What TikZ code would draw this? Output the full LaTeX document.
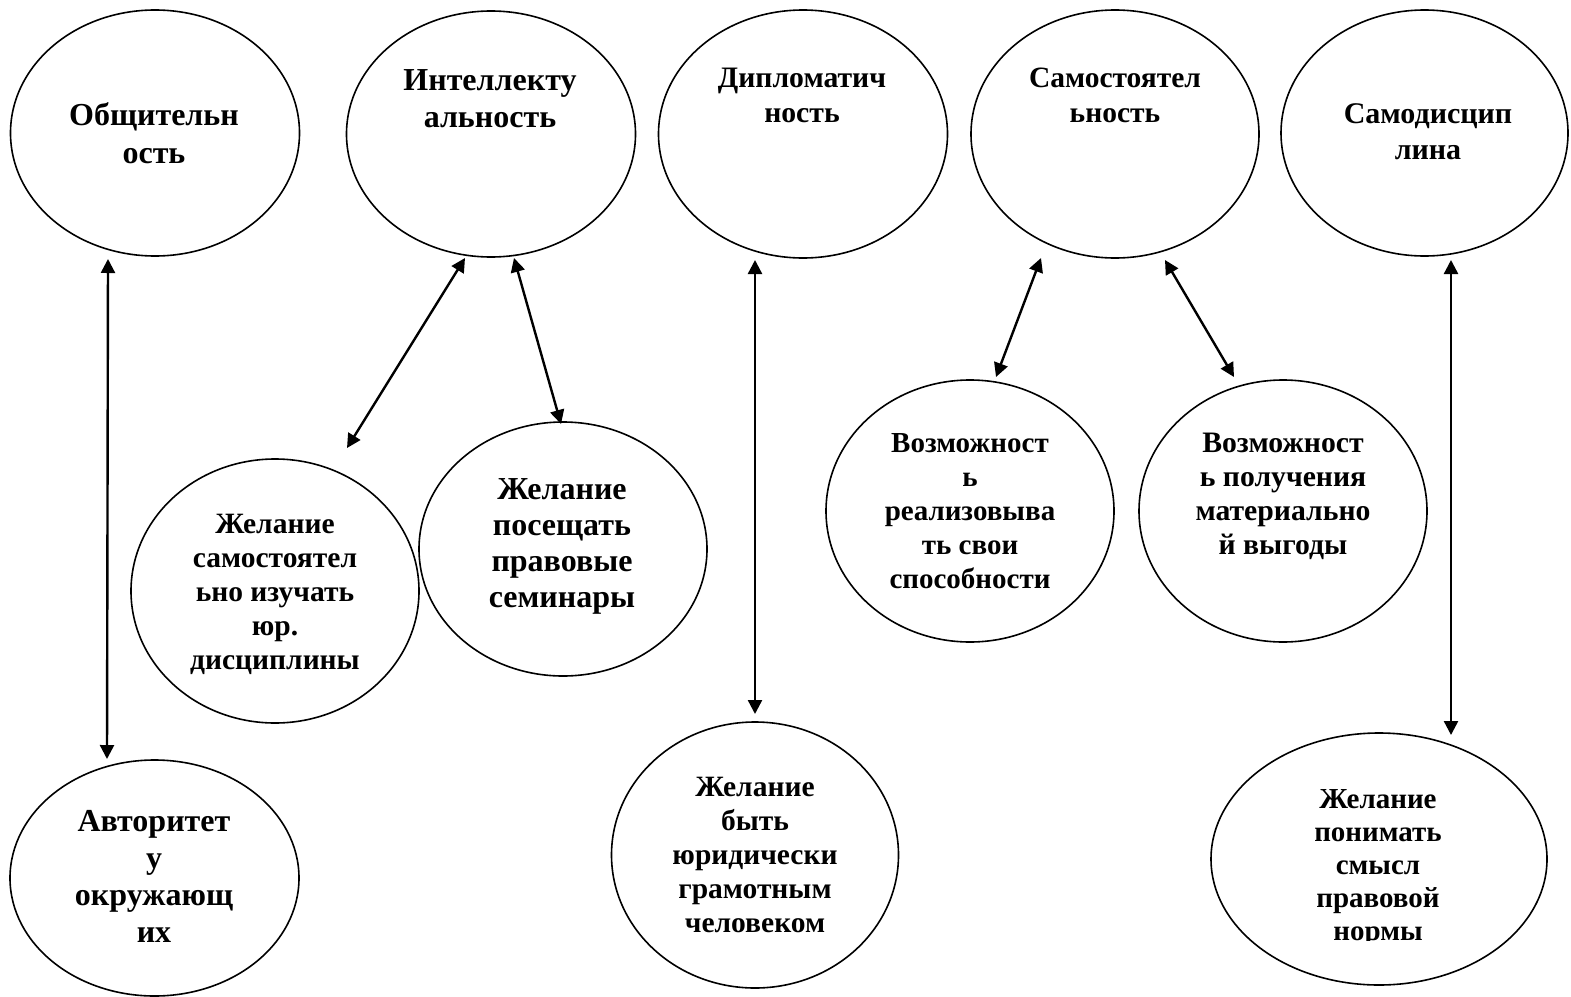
\documentclass[tikz,border=0pt]{standalone}
\usepackage{fontspec}
\setmainfont{Liberation Serif}
\usetikzlibrary{shapes.geometric,arrows.meta}
\tikzset{
  oval/.style={ellipse, draw, line width=1.6pt, inner sep=0pt},
  lbl/.style 2 args={anchor=north, align=center, inner sep=0pt, font=\bfseries\fontsize{#1}{#2}\selectfont},
  dbl/.style={{Triangle[length=14pt,width=14pt]}-{Triangle[length=14pt,width=14pt]}, line width=2.4pt}
}
\begin{document}
\begin{tikzpicture}[x=1pt,y=-1pt]
\useasboundingbox (0,0) rectangle (1571,996);
% ellipses
\node[oval, minimum width=289pt, minimum height=246pt] (e1) at (155,133) {};
\node[oval, minimum width=289pt, minimum height=246pt] (e2) at (491,134) {};
\node[oval, minimum width=289pt, minimum height=248pt] (e3) at (803,134) {};
\node[oval, minimum width=288pt, minimum height=248pt] (e4) at (1115,134) {};
\node[oval, minimum width=287pt, minimum height=246pt] (e5) at (1424.5,133) {};
\node[oval, minimum width=288pt, minimum height=264pt] (e6) at (275,591) {};
\node[oval, minimum width=288pt, minimum height=254pt] (e7) at (563,549) {};
\node[oval, minimum width=288pt, minimum height=262pt] (e8) at (970,511) {};
\node[oval, minimum width=288pt, minimum height=262pt] (e9) at (1283,511) {};
\node[oval, minimum width=289pt, minimum height=236pt] (e10) at (154.5,878) {};
\node[oval, minimum width=287pt, minimum height=266pt] (e11) at (755,855) {};
\node[oval, minimum width=336pt, minimum height=252pt] (e12) at (1379,859) {};
% texts
\node[lbl={32}{38}] (t1) at (154,102) {Общительн\\ость};
\node[lbl={32}{37}] (t2) at (490,69.5) {Интеллекту\\альность};
\node[lbl={29.7}{35}] (t3) at (802,67.5) {Дипломатич\\ность};
\node[lbl={29.5}{35}] (t4) at (1115,68) {Самостоятел\\ьность};
\node[lbl={30}{36}] (t5) at (1428,103) {Самодисцип\\лина};
\node[lbl={29.5}{34}] (t6) at (275,514) {Желание\\самостоятел\\ьно изучать\\юр.\\дисциплины};
\node[lbl={32}{36}] (t7) at (562,478.5) {Желание\\посещать\\правовые\\семинары};
\node[lbl={29}{34}] (t8) at (970,433) {Возможност\\ь\\реализовыва\\ть свои\\способности};
\node[lbl={29.7}{34}] (t9) at (1283,433) {Возможност\\ь получения\\материально\\й выгоды};
\node[lbl={32}{37}] (t10) at (154,810.5) {Авторитет\\у\\окружающ\\их};
\node[lbl={29.5}{34}] (t11) at (755,777) {Желание\\быть\\юридически\\грамотным\\человеком};
\begin{scope}
\clip (1200,700) rectangle (1560,940);
\node[lbl={29}{33}] (t12) at (1378,789) {Желание\\понимать\\смысл\\правовой\\нормы};
\end{scope}
% arrow end points
\coordinate (a1s) at (108,259);  \coordinate (a1e) at (107,759);
\coordinate (a2s) at (465,258);  \coordinate (a2e) at (347,448);
\coordinate (a3s) at (514,258);  \coordinate (a3e) at (561,424);
\coordinate (a4s) at (755,260);  \coordinate (a4e) at (755,714);
\coordinate (a5s) at (1041,258); \coordinate (a5e) at (996,377);
\coordinate (a6s) at (1165,260); \coordinate (a6e) at (1234,377);
\coordinate (a7s) at (1451,260); \coordinate (a7e) at (1451,735);
\draw[dbl] (a1s) -- (a1e);
\draw[dbl] (a2s) -- (a2e);
\draw[dbl] (a3s) -- (a3e);
\draw[dbl] (a4s) -- (a4e);
\draw[dbl] (a5s) -- (a5e);
\draw[dbl] (a6s) -- (a6e);
\draw[dbl] (a7s) -- (a7e);
\end{tikzpicture}
\end{document}
